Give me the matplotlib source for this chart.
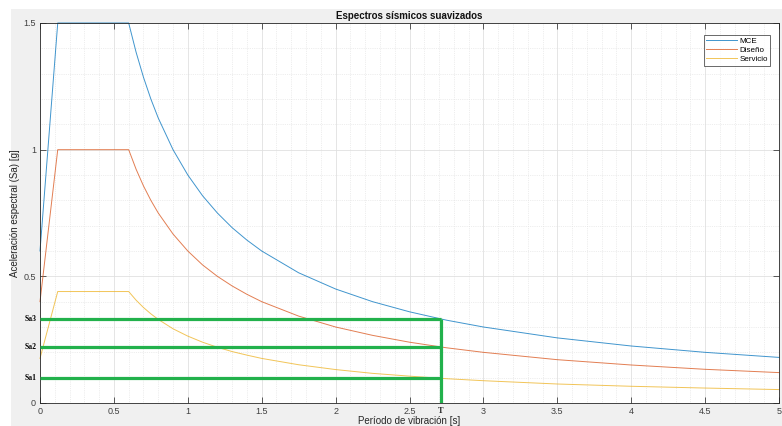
import matplotlib.pyplot as plt
from matplotlib.ticker import MultipleLocator
from matplotlib.patches import Rectangle
import numpy as np

plt.rcParams['font.family'] = ['Liberation Sans', 'DejaVu Sans']

# Periodo (s) y aceleraciones espectrales
T = [0, 0.12, 0.6, 0.65, 0.7, 0.75, 0.8, 0.9, 1.0, 1.1, 1.2, 1.3, 1.4, 1.5,
     1.75, 2.0, 2.25, 2.5, 2.75, 3.0, 3.5, 4.0, 4.5, 5.0]
mce = [0.6, 1.5, 1.5, 1.385, 1.286, 1.2, 1.125, 1.0, 0.9, 0.818, 0.75, 0.692,
       0.643, 0.6, 0.514, 0.45, 0.4, 0.36, 0.327, 0.3, 0.257, 0.225, 0.2, 0.18]
diseno = [0.4, 1.0, 1.0, 0.923, 0.857, 0.8, 0.75, 0.667, 0.6, 0.545, 0.5, 0.462,
          0.429, 0.4, 0.343, 0.3, 0.267, 0.24, 0.218, 0.2, 0.171, 0.15, 0.133, 0.12]
servicio = [0.176, 0.44, 0.44, 0.406, 0.377, 0.352, 0.33, 0.293, 0.264, 0.24, 0.22,
            0.203, 0.189, 0.176, 0.151, 0.132, 0.117, 0.106, 0.096, 0.088, 0.075,
            0.066, 0.059, 0.053]

# periodo de la estructura y aceleraciones correspondientes
T_est = 2.71
sa_levels = [0.097, 0.222, 0.332]
sa_names = ['Sa1', 'Sa2', 'Sa3']

series_names = ['MCE', 'Diseño', 'Servicio']
colors = ['#0072BD', '#D95319', '#EDB120']

fig = plt.figure(figsize=(7.82, 4.26), dpi=100, facecolor='white')
fig.patches.append(Rectangle((11 / 782, 0), 1, (426 - 9) / 426, transform=fig.transFigure,
                             facecolor='#f0f0f0', edgecolor='none', zorder=-10))

ax = fig.add_axes([40 / 782, 23 / 426, 739 / 782, 380 / 426])
ax.set_facecolor('white')

for vals, name, c in zip([mce, diseno, servicio], series_names, colors):
    ax.plot(T, vals, color=c, lw=0.7, alpha=0.75, label=name, clip_on=False)

green = '#22b14c'
for s in sa_levels:
    ax.plot([0, T_est], [s, s], color=green, lw=2.3, solid_capstyle='butt', zorder=5)
ax.plot([T_est, T_est], [0, max(sa_levels)], color=green, lw=2.3, solid_capstyle='butt', zorder=5)

for s, n in zip(sa_levels, sa_names):
    ax.text(-0.02, s, n, ha='right', va='center', fontsize=5.5, fontweight='bold',
            family='Liberation Serif')
ax.text(T_est, -0.014, 'T', ha='center', va='top', fontsize=6, fontweight='bold',
        family='Liberation Serif', color='#262626')

ax.set_xlim(0, 5)
ax.set_ylim(0, 1.5)
ax.xaxis.set_minor_locator(MultipleLocator(0.1))
ax.yaxis.set_minor_locator(MultipleLocator(0.1))
ax.set_xticks(np.arange(0, 5.01, 0.5), ['0', '0.5', '1', '1.5', '2', '2.5', '3', '3.5', '4', '4.5', '5'])
ax.set_yticks([0, 0.5, 1, 1.5], ['0', '0.5', '1', '1.5'])

ax.grid(which='major', color='#e0e0e0', lw=0.6)
ax.grid(which='minor', color='#dedede', lw=0.5, ls=':')
ax.set_axisbelow(True)

ax.tick_params(which='major', direction='in', length=4, width=0.6, top=True, right=True,
               labelsize=6.5, colors='#404040', pad=3)
ax.tick_params(which='minor', length=0)
for sp in ax.spines.values():
    sp.set_color('#262626')
    sp.set_linewidth(0.6)

ax.set_title('Espectros sísmicos suavizados', fontsize=7, fontweight='bold', pad=3, color='#111111')
ax.set_xlabel('Período de vibración [s]', fontsize=7, color='#262626', labelpad=0)
ax.set_ylabel('Aceleración espectral (Sa) [g]', fontsize=7, color='#262626')
ax.yaxis.set_label_coords(-20 / 739, 0.5)

leg = ax.legend(loc='upper right', fontsize=5.8, frameon=True, fancybox=False,
                edgecolor='#262626', borderpad=0.3, handlelength=3.8, handletextpad=0.3,
                labelspacing=0.2, bbox_to_anchor=(0.9935, 0.98))
leg.get_frame().set_linewidth(0.6)

fig.savefig('out.png', dpi=100, facecolor=fig.get_facecolor())
